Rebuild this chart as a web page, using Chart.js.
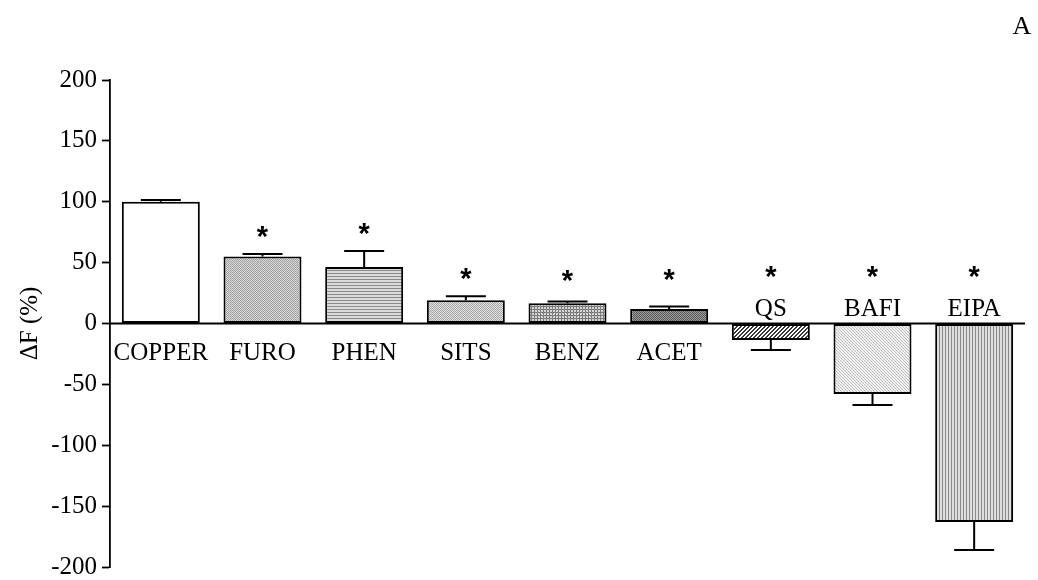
<!DOCTYPE html>
<html>
<head>
<meta charset="utf-8">
<script src="https://cdn.jsdelivr.net/npm/chart.js@4.4.1/dist/chart.umd.min.js"></script>
<style>
  html, body { margin: 0; padding: 0; background: #fff; }
  #wrap { width: 1038px; height: 580px; position: relative; }
</style>
</head>
<body>
<div id="wrap"><canvas id="c" width="1038" height="580"></canvas></div>
<script>
// Treatments and fluorescence change (ΔF, %) with SEM
const categories = ['COPPER', 'FURO', 'PHEN', 'SITS', 'BENZ', 'ACET', 'QS', 'BAFI', 'EIPA'];
const deltaF = [100, 55, 46.5, 19, 16.7, 12, -13.5, -58, -163];
const sem = [1.5, 2, 13, 3.3, 1.4, 2, 8.3, 9, 23];
// Level (in % units) at which the significance asterisk sits; null = not significant
const starLevel = [null, 75, 77.5, 41, 39, 40, 42, 42, 42];
const yTicks = [-200, -150, -100, -50, 0, 50, 100, 150, 200];
const panelLetter = 'A';

const SERIF = '"Liberation Serif", "Times New Roman", serif';
const SANS = '"Liberation Sans", Arial, sans-serif';

// Build a small repeating fill pattern
function makePattern(size, bg, draw) {
  const c = document.createElement('canvas');
  c.width = size; c.height = size;
  const g = c.getContext('2d');
  g.fillStyle = bg; g.fillRect(0, 0, size, size);
  draw(g);
  return document.getElementById('c').getContext('2d').createPattern(c, 'repeat');
}
function px(g, col, pts) { g.fillStyle = col; pts.forEach(p => g.fillRect(p[0], p[1], 1, 1)); }

const fills = [
  '#ffffff',
  // fine crosshatch grey
  makePattern(2, '#d6d6d6', g => px(g, '#a4a4a4', [[0,0],[1,1]])),
  // horizontal lines
  makePattern(3, '#dcdcdc', g => { g.fillStyle = '#8a8a8a'; g.fillRect(0, 0, 3, 1); }),
  // fine dotted light
  makePattern(2, '#dcdcdc', g => px(g, '#ababab', [[0,0],[1,1]])),
  // small grid
  makePattern(3, '#d4d4d4', g => { g.fillStyle = '#7c7c7c'; g.fillRect(0, 0, 3, 1); g.fillRect(0, 0, 1, 3); }),
  // dark dotted
  makePattern(2, '#9a9a9a', g => px(g, '#5a5a5a', [[0,0],[1,1]])),
  // diagonal hatch
  makePattern(4, '#ffffff', g => px(g, '#3a3a3a', [[3,0],[2,1],[1,2],[0,3],[2,0],[1,1],[0,2],[3,3]])),
  // light dotted
  makePattern(3, '#eeeeee', g => px(g, '#c4c4c4', [[0,0],[1,1],[2,2]])),
  // vertical lines
  makePattern(3, '#dedede', g => { g.fillStyle = '#8a8a8a'; g.fillRect(0, 0, 1, 3); })
];

// Error bars, zero line, category labels, asterisks and titles
const decorations = {
  id: 'decorations',
  afterDatasetsDraw(chart) {
    const ctx = chart.ctx;
    const xs = chart.scales.x, ys = chart.scales.y;
    const meta = chart.getDatasetMeta(0);
    const y0 = ys.getPixelForValue(0);
    ctx.save();
    // error bars
    ctx.strokeStyle = '#000';
    ctx.lineWidth = 2;
    meta.data.forEach((bar, i) => {
      const v = deltaF[i];
      const end = v + (v >= 0 ? sem[i] : -sem[i]);
      const yb = ys.getPixelForValue(v);
      const ye = ys.getPixelForValue(end);
      const x = bar.x;
      ctx.beginPath();
      ctx.moveTo(x, yb); ctx.lineTo(x, ye);
      ctx.moveTo(x - 20, ye); ctx.lineTo(x + 20, ye);
      ctx.stroke();
    });
    // zero line
    ctx.lineWidth = 1.8;
    ctx.beginPath();
    ctx.moveTo(chart.chartArea.left, y0);
    ctx.lineTo(chart.chartArea.right, y0);
    ctx.stroke();
    // category labels: below the zero line for positive bars, above for negative
    ctx.fillStyle = '#000';
    ctx.font = '25px ' + SERIF;
    ctx.textAlign = 'center';
    ctx.textBaseline = 'alphabetic';
    categories.forEach((name, i) => {
      const x = xs.getPixelForValue(i);
      ctx.fillText(name, x, deltaF[i] >= 0 ? y0 + 36 : y0 - 8);
    });
    // significance asterisks
    ctx.font = 'bold 29px ' + SANS;
    const m = ctx.measureText('*');
    const shift = (m.actualBoundingBoxAscent - m.actualBoundingBoxDescent) / 2;
    starLevel.forEach((lv, i) => {
      if (lv === null) return;
      ctx.fillText('*', xs.getPixelForValue(i), ys.getPixelForValue(lv) + shift);
    });
    // y-axis title
    ctx.font = '25px ' + SERIF;
    ctx.translate(30, (ys.top + ys.bottom) / 2);
    ctx.rotate(-Math.PI / 2);
    ctx.textAlign = 'center';
    ctx.textBaseline = 'middle';
    ctx.fillText('ΔF (%)', 0, 0);
    ctx.restore();
    // panel letter
    ctx.save();
    ctx.font = '26px ' + SERIF;
    ctx.fillStyle = '#000';
    ctx.textAlign = 'center';
    ctx.textBaseline = 'middle';
    ctx.fillText(panelLetter, 1022, 27);
    ctx.restore();
  }
};

new Chart(document.getElementById('c'), {
  type: 'bar',
  data: {
    labels: categories,
    datasets: [{
      data: deltaF,
      backgroundColor: fills,
      borderColor: '#000',
      borderWidth: 2,
      borderSkipped: false,
      barPercentage: 0.767,
      categoryPercentage: 1
    }]
  },
  options: {
    responsive: false,
    animation: false,
    events: [],
    layout: { padding: { left: 0, top: 80, right: 13, bottom: 13 } },
    plugins: { legend: { display: false }, tooltip: { enabled: false } },
    scales: {
      x: { display: false },
      y: {
        min: -200, max: 200,
        afterFit(scale) {
          scale.width = 110;
          scale.paddingTop = 0;
          scale.paddingBottom = 0;
        },
        afterBuildTicks(scale) { scale.ticks = yTicks.map(v => ({ value: v })); },
        border: { display: true, color: '#000', width: 1.8 },
        grid: { drawOnChartArea: false, drawTicks: true, tickLength: 8, tickWidth: 1.8, color: '#000' },
        ticks: { color: '#000', padding: 5, font: { family: SERIF, size: 25, lineHeight: 1 } }
      }
    }
  },
  plugins: [decorations]
});
</script>
</body>
</html>
